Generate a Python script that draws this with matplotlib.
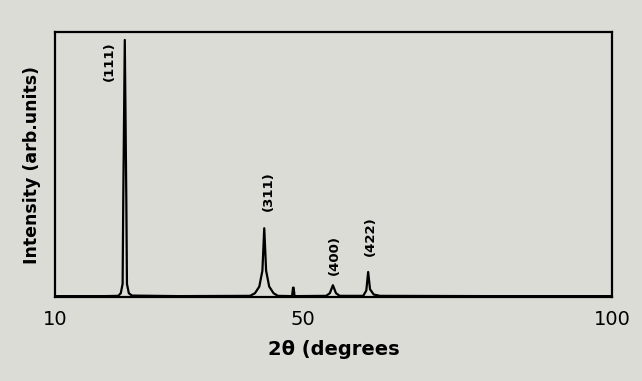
import numpy as np
import matplotlib.pyplot as plt

# XRD pattern, points (2theta in degrees, intensity arb. units)
two_theta = [10.0, 18.0, 20.2, 20.6, 20.9, 21.0, 21.25, 21.5, 21.6, 21.9, 22.4, 30.0,
             41.5, 42.3, 43.0, 43.5, 43.8, 44.1, 44.6, 45.3, 46.0,
             48.3, 48.45, 48.55, 48.7,
             53.8, 54.4, 54.9, 55.4, 56.0,
             59.8, 60.3, 60.6, 60.9, 61.5, 62.5, 80.0, 100.0]
intensity = [0.4, 0.4, 0.5, 1.5, 5.0, 36.0, 97.0, 36.0, 5.0, 1.5, 0.6, 0.4,
             0.5, 1.5, 4.0, 10.0, 26.0, 10.0, 4.0, 1.5, 0.5,
             0.4, 3.6, 3.6, 0.4,
             0.5, 1.5, 4.5, 1.5, 0.5,
             0.5, 2.5, 9.5, 3.0, 1.0, 0.5, 0.4, 0.4]

peak_labels = ['(111)', '(311)', '(400)', '(422)']
label_x = [18.7, 44.4, 55.1, 60.9]
label_y = [89, 40, 16, 23]

xticks = [10, 50, 100]

paper = '#dcdcd7'
fig = plt.figure(figsize=(6.42, 3.81), dpi=100, facecolor=paper)
ax = fig.add_axes([0.086, 0.22, 0.867, 0.696])
ax.set_facecolor(paper)

ax.plot(two_theta, intensity, color='black', lw=1.6)

for lab, x, y in zip(peak_labels, label_x, label_y):
    ax.text(x, y, lab, rotation=90, ha='center', va='center',
            fontsize=9.5, fontweight='bold')

ax.set_xlim(10, 100)
ax.set_ylim(0, 100)
ax.set_xticks(xticks)
ax.set_xticklabels([str(t) for t in xticks], fontsize=14)
ax.set_yticks([])
ax.tick_params(axis='x', length=0, pad=9)
for s in ax.spines.values():
    s.set_linewidth(1.6)

ax.set_xlabel('2θ (degrees', fontsize=14, fontweight='bold', labelpad=8)
ax.set_ylabel('Intensity (arb.units)', fontsize=12.5, fontweight='bold', labelpad=10)

fig.savefig('out.png', dpi=100, facecolor=paper)
